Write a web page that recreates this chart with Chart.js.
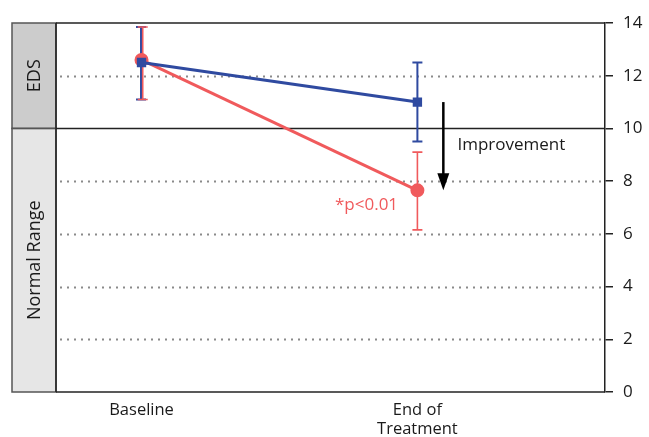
<!DOCTYPE html>
<html>
<head>
<meta charset="utf-8">
<script src="https://cdn.jsdelivr.net/npm/chart.js@4.4.1/dist/chart.umd.min.js"></script>
<style>
  body { margin: 0; background: #fff; }
  #wrap { width: 649px; height: 437px; position: relative; }
</style>
</head>
<body>
<div id="wrap"><canvas id="edsChart"></canvas></div>
<script>
// Dados
const categories = ['Baseline', ['End of', 'Treatment']];
const timePoints = [1, 2];
const blueMean = [12.5, 11.0];
const blueLow = [11.1, 9.5];
const blueHigh = [13.85, 12.5];
const redMean = [12.6, 7.65];
const redLow = [11.1, 6.15];
const redHigh = [13.85, 9.1];
const yTicks = [0, 2, 4, 6, 8, 10, 12, 14];
const dottedLines = [2, 4, 6, 8, 12];
const solidLines = [0, 10, 14];

const BLUE = '#2f4aa0';
const RED = '#f05a5c';
const FONT = "'Open Sans', sans-serif";

function pts(means) {
    return timePoints.map(function(t, i) { return { x: t, y: means[i] }; });
}

// Faixas, grade, barras de erro e anotações
const decorPlugin = {
    id: 'decor',
    beforeDatasetsDraw: function(chart) {
        const ctx = chart.ctx;
        const x = chart.scales.x, y = chart.scales.y;
        const area = chart.chartArea;
        ctx.save();

        // faixa lateral
        const bandL = 12;
        ctx.fillStyle = '#cccccc';
        ctx.fillRect(bandL, y.getPixelForValue(14), area.left - bandL, y.getPixelForValue(10) - y.getPixelForValue(14));
        ctx.fillStyle = '#e6e6e6';
        ctx.fillRect(bandL, y.getPixelForValue(10), area.left - bandL, y.getPixelForValue(0) - y.getPixelForValue(10));
        ctx.strokeStyle = '#555';
        ctx.lineWidth = 1.5;
        ctx.strokeRect(bandL, y.getPixelForValue(14), area.left - bandL, y.getPixelForValue(10) - y.getPixelForValue(14));
        ctx.strokeRect(bandL, y.getPixelForValue(10), area.left - bandL, y.getPixelForValue(0) - y.getPixelForValue(10));

        ctx.fillStyle = '#1a1a1a';
        ctx.font = '18px ' + FONT;
        ctx.textAlign = 'center';
        ctx.textBaseline = 'middle';
        [['EDS', 12], ['Normal Range', 5]].forEach(function(t) {
            ctx.save();
            ctx.translate((bandL + area.left) / 2 + 1, y.getPixelForValue(t[1]));
            ctx.rotate(-Math.PI / 2);
            ctx.fillText(t[0], 0, 0);
            ctx.restore();
        });

        // linhas pontilhadas
        ctx.strokeStyle = '#8a8a8a';
        ctx.lineWidth = 2;
        ctx.setLineDash([2, 5]);
        dottedLines.forEach(function(v) {
            const py = Math.round(y.getPixelForValue(v)) + 0.5;
            ctx.beginPath();
            ctx.moveTo(area.left + 4, py);
            ctx.lineTo(area.right, py);
            ctx.stroke();
        });
        ctx.setLineDash([]);

        // linhas sólidas
        ctx.strokeStyle = '#222';
        ctx.lineWidth = 1.5;
        solidLines.forEach(function(v) {
            const py = y.getPixelForValue(v);
            ctx.beginPath();
            ctx.moveTo(area.left, py);
            ctx.lineTo(area.right, py);
            ctx.stroke();
        });
        ctx.beginPath();
        ctx.moveTo(area.left, y.getPixelForValue(14));
        ctx.lineTo(area.left, y.getPixelForValue(0));
        ctx.stroke();

        // barras de erro
        function errBars(low, high, color, w, dx) {
            ctx.strokeStyle = color;
            ctx.lineWidth = w;
            timePoints.forEach(function(t, i) {
                const px = x.getPixelForValue(t) + (i === 0 ? dx : 0);
                const y1 = y.getPixelForValue(low[i]);
                const y2 = y.getPixelForValue(high[i]);
                ctx.beginPath();
                ctx.moveTo(px, y1); ctx.lineTo(px, y2);
                ctx.moveTo(px - 5, y1); ctx.lineTo(px + 5, y1);
                ctx.moveTo(px - 5, y2); ctx.lineTo(px + 5, y2);
                ctx.stroke();
            });
        }
        errBars(blueLow, blueHigh, BLUE, 2, -0.5);
        errBars(redLow, redHigh, RED, 1.6, 1.2);
        ctx.restore();
    },
    afterDraw: function(chart) {
        const ctx = chart.ctx;
        const x = chart.scales.x, y = chart.scales.y;
        ctx.save();
        // seta de melhora
        const ax = x.getPixelForValue(2.094);
        const top = y.getPixelForValue(11.0);
        const tip = y.getPixelForValue(7.65);
        ctx.strokeStyle = '#000';
        ctx.fillStyle = '#000';
        ctx.lineWidth = 2.5;
        ctx.beginPath();
        ctx.moveTo(ax, top);
        ctx.lineTo(ax, tip - 14);
        ctx.stroke();
        ctx.beginPath();
        ctx.moveTo(ax - 6, tip - 17);
        ctx.lineTo(ax + 6, tip - 17);
        ctx.lineTo(ax, tip);
        ctx.closePath();
        ctx.fill();

        ctx.font = '17px ' + FONT;
        ctx.textBaseline = 'middle';
        ctx.textAlign = 'left';
        ctx.fillStyle = '#1a1a1a';
        ctx.fillText('Improvement', x.getPixelForValue(2.145), y.getPixelForValue(9.38));
        ctx.textAlign = 'right';
        ctx.fillStyle = RED;
        ctx.fillText('*p<0.01', x.getPixelForValue(1.93), y.getPixelForValue(7.08));
        ctx.restore();
    }
};

new Chart(document.getElementById('edsChart').getContext('2d'), {
    type: 'line',
    data: {
        datasets: [{
            label: 'Blue',
            data: pts(blueMean),
            borderColor: BLUE,
            backgroundColor: BLUE,
            borderWidth: 3,
            pointStyle: 'rect',
            pointRadius: 4.5,
            pointHoverRadius: 4.5
        }, {
            label: 'Red',
            data: pts(redMean),
            borderColor: RED,
            backgroundColor: RED,
            borderWidth: 3,
            pointStyle: 'circle',
            pointRadius: 5.5,
            pointHoverRadius: 5.5
        }]
    },
    options: {
        responsive: true,
        maintainAspectRatio: false,
        animation: false,
        layout: { padding: { left: 56, top: 23, right: 0, bottom: 0 } },
        plugins: {
            legend: { display: false },
            tooltip: { enabled: false }
        },
        scales: {
            x: {
                type: 'linear',
                min: 0.69,
                max: 2.68,
                afterBuildTicks: function(axis) {
                    axis.ticks = timePoints.map(function(v) { return { value: v }; });
                },
                afterFit: function(axis) { axis.height = 45; },
                grid: { display: false },
                border: { display: false },
                ticks: {
                    padding: 1,
                    color: '#1a1a1a',
                    font: { family: FONT, size: 16.5, lineHeight: 1.15 },
                    maxRotation: 0,
                    autoSkip: false,
                    callback: function(value) {
                        return categories[timePoints.indexOf(value)];
                    }
                }
            },
            y: {
                position: 'right',
                min: 0,
                max: 14,
                afterBuildTicks: function(axis) {
                    axis.ticks = yTicks.map(function(v) { return { value: v }; });
                },
                afterFit: function(axis) { axis.width = 44; },
                grid: {
                    drawOnChartArea: false,
                    color: '#222',
                    lineWidth: 1.5,
                    tickLength: 8
                },
                border: { color: '#222', width: 1.5 },
                ticks: {
                    padding: 10,
                    color: '#1a1a1a',
                    font: { family: FONT, size: 17 }
                }
            }
        }
    },
    plugins: [decorPlugin]
});
</script>
</body>
</html>
